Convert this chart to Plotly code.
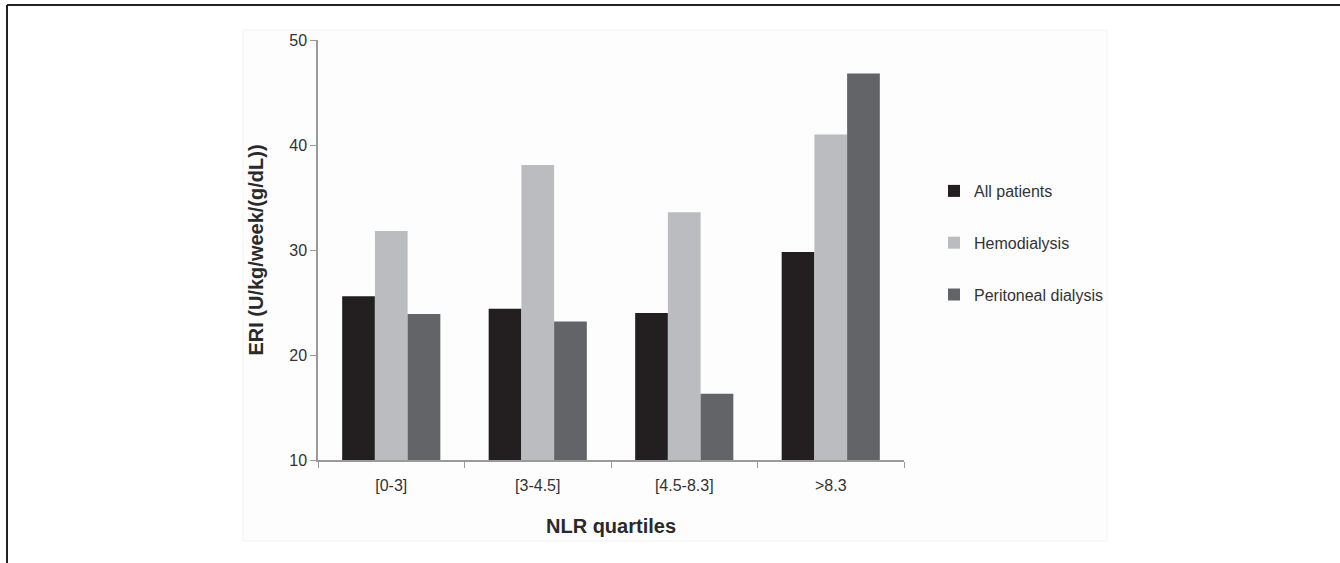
import plotly.graph_objects as go

categories = ["[0-3]", "[3-4.5]", "[4.5-8.3]", ">8.3"]
all_patients = [25.6, 24.4, 24.0, 29.8]
hemodialysis = [31.8, 38.1, 33.6, 41.0]
peritoneal = [23.9, 23.2, 16.3, 46.8]

series_names = ["All patients", "Hemodialysis", "Peritoneal dialysis"]
series_values = [all_patients, hemodialysis, peritoneal]
series_colors = ["#231f20", "#bbbcbf", "#636467"]

W, H = 1340, 563
L, R, T, B = 318, 904, 40, 460

fig = go.Figure()
for name, vals, col in zip(series_names, series_values, series_colors):
    fig.add_trace(go.Bar(
        x=categories, y=vals, name=name, legendgroup=name,
        marker=dict(color=col, line=dict(width=0)),
    ))

def px(xp):
    return (xp - L) / (R - L)

def py(yp):
    return (B - yp) / (B - T)

# faint chart background box
fig.add_shape(type="rect", xref="paper", yref="paper",
              x0=px(243), x1=px(1107), y0=py(541), y1=py(30),
              fillcolor="#fdfdfd", line=dict(color="#f3f3f3", width=1), layer="below")
# outer frame (top and left)
fig.add_shape(type="line", xref="paper", yref="paper",
              x0=px(7), x1=px(1345), y0=py(5), y1=py(5),
              line=dict(color="#222222", width=2))
fig.add_shape(type="line", xref="paper", yref="paper",
              x0=px(7), x1=px(7), y0=py(5), y1=py(570),
              line=dict(color="#222222", width=2))

font_family = "Liberation Sans, Arial, sans-serif"

fig.update_layout(
    width=W, height=H,
    margin=dict(l=L, r=W - R, t=T, b=H - B, autoexpand=False),
    paper_bgcolor="white", plot_bgcolor="white",
    barmode="group", bargap=0.33, bargroupgap=0.0,
    font=dict(family=font_family, color="#333333", size=16),
    showlegend=True,
    legend=dict(x=px(934), y=py(174), xanchor="left", yanchor="top",
                traceorder="grouped", tracegroupgap=28,
                font=dict(size=16, color="#333333"),
                bgcolor="rgba(0,0,0,0)", itemwidth=30),
    xaxis=dict(
        showline=True, linecolor="#9a9a9a", linewidth=1.5,
        ticks="outside", tickson="boundaries", ticklen=6, tickcolor="#9a9a9a",
        tickfont=dict(size=16, color="#333333"), ticklabelstandoff=10,
        showgrid=False, zeroline=False,
        title=dict(text="<b>NLR quartiles</b>", font=dict(size=20, color="#2a2a2a"), standoff=26),
    ),
    yaxis=dict(
        range=[10, 50], dtick=10, tick0=10,
        showline=True, linecolor="#9a9a9a", linewidth=1.5,
        ticks="outside", ticklen=6, tickcolor="#9a9a9a",
        tickfont=dict(size=16, color="#333333"),
        showgrid=False, zeroline=False,
        title=dict(text="<b>ERI (U/kg/week/(g/dL))</b>", font=dict(size=20, color="#2a2a2a"), standoff=20),
    ),
)

fig.write_html("out.html", config={"displayModeBar": False},
               post_script="document.body.style.margin='0';document.body.style.padding='0';")
